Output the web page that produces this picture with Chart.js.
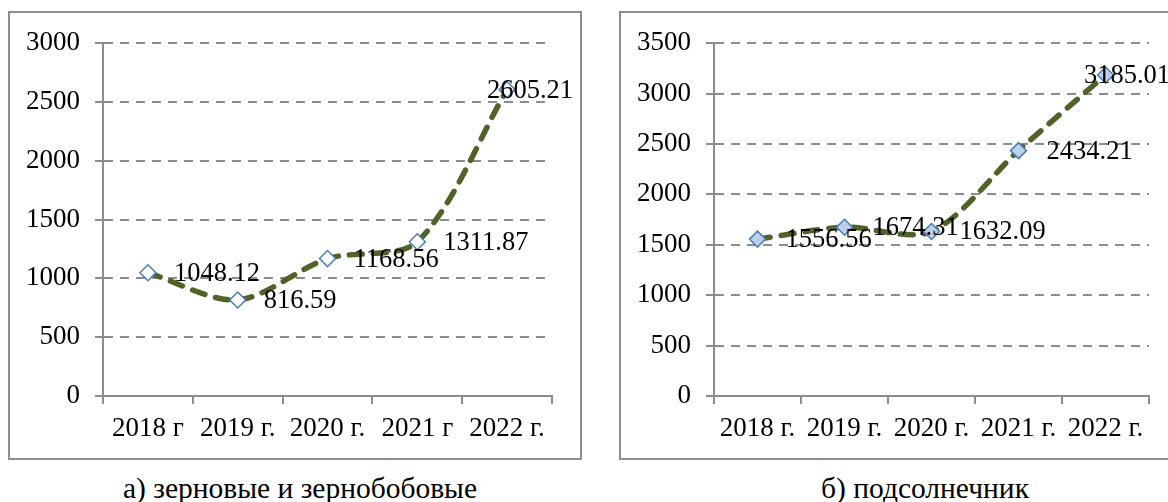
<!DOCTYPE html>
<html>
<head>
<meta charset="utf-8">
<script src="https://cdn.jsdelivr.net/npm/chart.js@4"></script>
<style>
  body { margin: 0; background: #fff; overflow: hidden; width: 1168px; height: 502px; position: relative; }
  canvas { position: absolute; }
  .box { position: absolute; border: 2px solid #8e8e8e; box-sizing: border-box; pointer-events: none; }
  .cap { position: absolute; top: 474px; font: 29.5px/29px "Liberation Serif", "Times New Roman", serif; color: #000; text-align: center; white-space: nowrap; }
</style>
</head>
<body>
<canvas id="grain" width="572" height="447" style="left:9px;top:12px"></canvas>
<div class="box" style="left:8px;top:11px;width:574px;height:449px"></div>
<div class="cap" style="left:95px;width:410px">а) зерновые и зернобобовые</div>

<canvas id="sun" width="552" height="447" style="left:620px;top:12px"></canvas>
<div class="box" style="left:619px;top:11px;width:556px;height:449px"></div>
<div class="cap" style="left:760px;width:330px">б) подсолнечник</div>

<script>
// данные
var yearsGrain = ['2018 г', '2019 г.', '2020 г.', '2021 г', '2022 г.'];
var grain = [1048.12, 816.59, 1168.56, 1311.87, 2605.21];

var yearsSun = ['2018 г.', '2019 г.', '2020 г.', '2021 г.', '2022 г.'];
var sunflower = [1556.56, 1674.31, 1632.09, 2434.21, 3185.01];

Chart.defaults.font.family = '"Liberation Serif", "Times New Roman", serif';
Chart.defaults.font.size = 27;
Chart.defaults.color = '#000';

// подписи значений справа от точки, как в Excel
var valueLabels = {
  id: 'valueLabels',
  afterDatasetsDraw: function(chart, args, opts) {
    var ctx = chart.ctx;
    var meta = chart.getDatasetMeta(0);
    var vals = chart.data.datasets[0].data;
    ctx.save();
    ctx.font = '26.5px "Liberation Serif", "Times New Roman", serif';
    ctx.fillStyle = '#000';
    ctx.textBaseline = 'middle';
    ctx.textAlign = 'left';
    meta.data.forEach(function(pt, i) {
      var txt = vals[i].toFixed(2);
      var w = ctx.measureText(txt).width;
      var x = pt.x + opts.offset;
      var limit = chart.chartArea.right + 21;
      if (x + w > limit) x = limit - w;
      ctx.fillText(txt, x, pt.y + 1);
    });
    ctx.restore();
  }
};

function makeChart(id, labels, values, maxY, fill, off, padRight) {
  return new Chart(document.getElementById(id), {
    type: 'line',
    data: {
      labels: labels,
      datasets: [{
        data: values,
        borderColor: '#4f6228',
        borderWidth: 5.5,
        borderDash: [13, 11],
        borderCapStyle: 'round',
        tension: 0.3,
        pointStyle: 'rectRot',
        pointRadius: 8,
        pointBorderWidth: 1.5,
        pointBorderColor: '#4a7ebb',
        pointBackgroundColor: fill
      }]
    },
    options: {
      responsive: false,
      animation: false,
      devicePixelRatio: 1,
      layout: { padding: { left: 0, top: 30, right: padRight, bottom: 0 } },
      plugins: {
        legend: { display: false },
        tooltip: { enabled: false },
        valueLabels: { offset: off }
      },
      scales: {
        x: {
          offset: true,
          grid: { offset: true, drawOnChartArea: false, tickLength: 8, color: '#8c8c8c', lineWidth: 2 },
          border: { color: '#8c8c8c', width: 2 },
          ticks: { padding: 9, maxRotation: 0, autoSkip: false },
          afterFit: function(s) { s.height = 63; }
        },
        y: {
          min: 0,
          max: maxY,
          ticks: { stepSize: 500, padding: 15, callback: function(v) { return String(v); } },
          grid: { color: '#8c8c8c', lineWidth: 2, tickLength: 8, tickBorderDash: [] },
          border: { color: '#8c8c8c', width: 2, dash: [9, 7] },
          afterFit: function(s) { s.width = 94; }
        }
      }
    },
    plugins: [valueLabels]
  });
}

makeChart('grain', yearsGrain, grain, 3000, '#ffffff', 26, 29);
makeChart('sun', yearsSun, sunflower, 3500, '#bcd0ea', 28, 23);
</script>
</body>
</html>
